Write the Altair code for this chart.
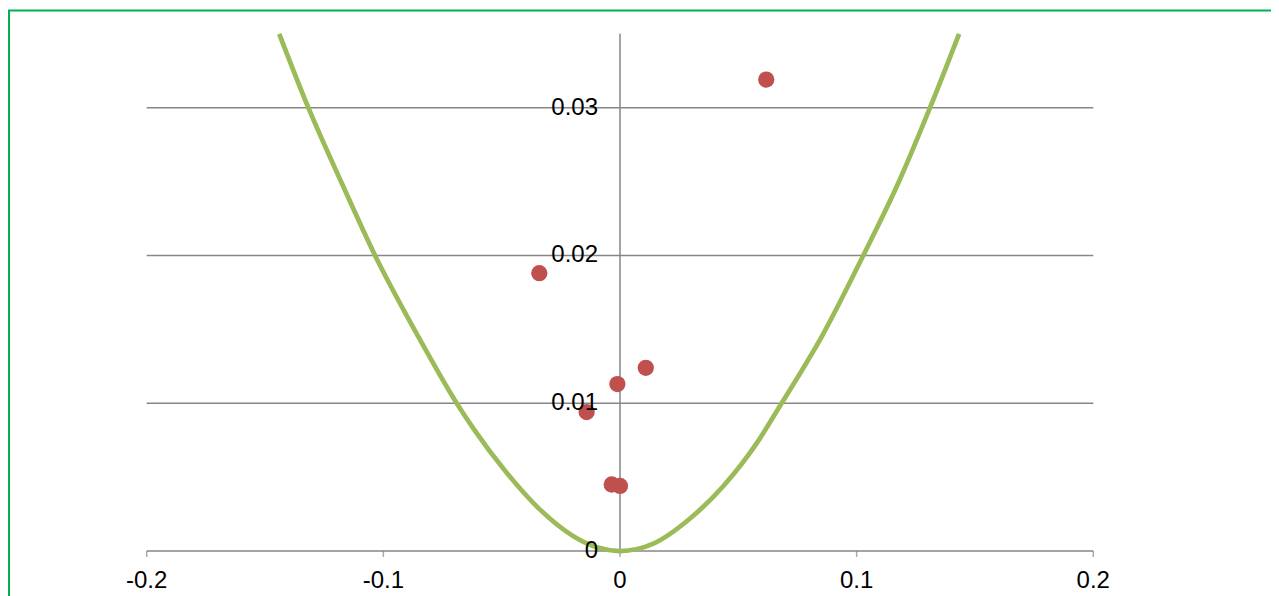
import altair as alt
import pandas as pd

# ---- data ----
CURVE_X = [-0.1440, -0.1317, -0.1176, -0.1035, -0.0859, -0.0690, -0.0620, -0.0479,
           -0.0338, -0.0197, -0.0098, 0.0, 0.0141, 0.0296, 0.0437, 0.0578,
           0.0683, 0.0859, 0.1028, 0.1176, 0.1310, 0.1433]
CURVE_Y = [0.0350, 0.0300, 0.0249, 0.0200, 0.0147, 0.0100, 0.0083, 0.0053,
           0.0028, 0.0010, 0.00025, 0.0, 0.0005, 0.0022, 0.0044, 0.0073,
           0.0100, 0.0147, 0.0200, 0.0249, 0.0300, 0.0350]
POINT_X = [0.0618, -0.0341, 0.0109, -0.0011, -0.0141, -0.0035, 0.0]
POINT_Y = [0.0319, 0.0188, 0.0124, 0.0113, 0.0094, 0.0045, 0.0044]
X_TICKS = [-0.2, -0.1, 0, 0.1, 0.2]
X_LABELS = ["-0.2", "-0.1", "0", "0.1", "0.2"]
Y_TICKS = [0, 0.01, 0.02, 0.03]
Y_LABELS = ["0", "0.01", "0.02", "0.03"]
GRID_Y = [0, 0.01, 0.02, 0.03]
X_MIN, X_MAX = -0.2, 0.2
Y_TOP = 0.035

curve_df = pd.DataFrame({"x": CURVE_X, "y": CURVE_Y, "o": list(range(len(CURVE_X)))})
pts_df = pd.DataFrame({"x": POINT_X, "y": POINT_Y})
grid_df = pd.DataFrame({"y": GRID_Y, "x1": [X_MIN] * len(GRID_Y), "x2": [X_MAX] * len(GRID_Y)})
yline_df = pd.DataFrame({"x": [0], "y1": [0], "y2": [Y_TOP]})
xlab_df = pd.DataFrame({"x": X_TICKS, "y": [0] * len(X_TICKS), "t": X_LABELS})
ylab_df = pd.DataFrame({"x": [0] * len(Y_TICKS), "y": Y_TICKS, "t": Y_LABELS})

XS = alt.Scale(domain=[-0.25819, 0.27932], nice=False, zero=False)
YS = alt.Scale(domain=[-0.004703, 0.036577], nice=False, zero=False)

GRAY = "#868686"
FONT = "Liberation Sans"


def X(field):
    return alt.X(field, scale=XS, axis=None)


def Y(field):
    return alt.Y(field, scale=YS, axis=None)


grid = alt.Chart(grid_df).mark_rule(color=GRAY, strokeWidth=1.5).encode(
    x=X("x1:Q"), x2="x2:Q", y=Y("y:Q"))
yline = alt.Chart(yline_df).mark_rule(color=GRAY, strokeWidth=1.5).encode(
    x=X("x:Q"), y=Y("y1:Q"), y2="y2:Q")
xticks = alt.Chart(xlab_df).mark_tick(color=GRAY, orient="vertical", size=6,
                                      thickness=1.5, yOffset=3).encode(
    x=X("x:Q"), y=Y("y:Q"))
curve = alt.Chart(curve_df).mark_line(color="#9bbb59", strokeWidth=4.75,
                                      interpolate="monotone").encode(
    x=X("x:Q"), y=Y("y:Q"), order="o:Q")
points = alt.Chart(pts_df).mark_circle(color="#c0504d", opacity=1, size=265).encode(
    x=X("x:Q"), y=Y("y:Q"))
xlabels = alt.Chart(xlab_df).mark_text(font=FONT, fontSize=24, color="black",
                                       align="center", baseline="top", dy=18).encode(
    x=X("x:Q"), y=Y("y:Q"), text="t:N")
ylabels = alt.Chart(ylab_df).mark_text(font=FONT, fontSize=24, color="black",
                                       align="right", baseline="middle", dx=-22).encode(
    x=X("x:Q"), y=Y("y:Q"), text="t:N")

chart = alt.layer(grid, yline, xticks, curve, points, xlabels, ylabels).properties(
    width=1272,
    height=610,
    autosize=alt.AutoSizeParams(type="none"),
    padding={"left": 1, "top": 2.5, "right": -10, "bottom": 0},
    background="white",
).configure_view(stroke="#00b050", strokeWidth=2)

chart.save("out.html", embed_options={"renderer": "svg", "actions": False})
